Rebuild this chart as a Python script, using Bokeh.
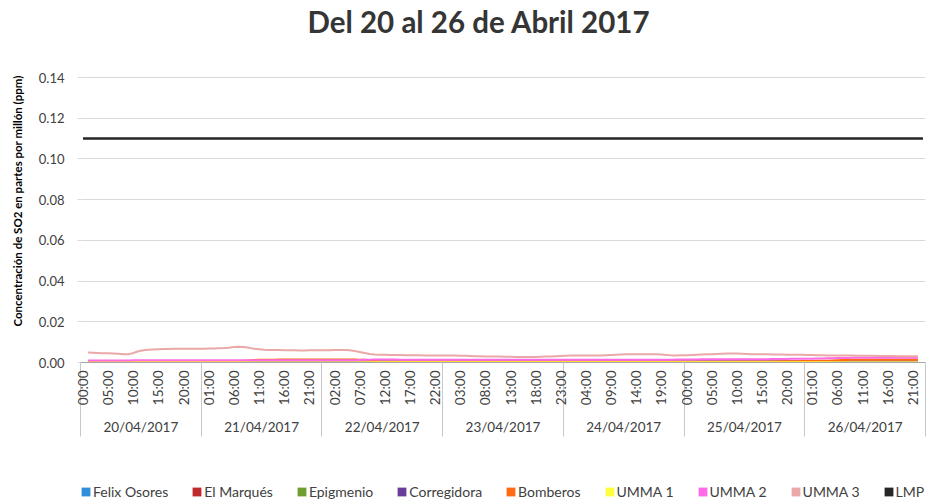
import math
from bokeh.plotting import figure
from bokeh.layouts import column
from bokeh.models import (Range1d, LinearAxis, FixedTicker, NumeralTickFormatter,
                          Legend, LegendItem, ColumnDataSource, Title)
from bokeh.embed import file_html
from bokeh.resources import INLINE

nan = float("nan")

title_text = "Del 20 al 26 de Abril 2017"
y_label = "Concentración de SO2 en partes por millón (ppm)"

dates = ["20/04/2017", "21/04/2017", "22/04/2017", "23/04/2017",
         "24/04/2017", "25/04/2017", "26/04/2017"]
day_centers = [11.5, 35.5, 59.5, 83.5, 107.5, 131.5, 155.5]
day_bounds = [-0.5, 23.5, 47.5, 71.5, 95.5, 119.5, 143.5, 167.5]

hour_ticks = [0, 5, 10, 15, 20, 25, 30, 35, 40, 45, 50, 55, 60, 65, 70, 75, 80,
              85, 90, 95, 100, 105, 110, 115, 120, 125, 130, 135, 140, 145,
              150, 155, 160, 165]
hour_labels = ["00:00", "05:00", "10:00", "15:00", "20:00",
               "01:00", "06:00", "11:00", "16:00", "21:00",
               "02:00", "07:00", "12:00", "17:00", "22:00",
               "03:00", "08:00", "13:00", "18:00", "23:00",
               "04:00", "09:00", "14:00", "19:00",
               "00:00", "05:00", "10:00", "15:00", "20:00",
               "01:00", "06:00", "11:00", "16:00", "21:00"]

y_ticks = [0.0, 0.02, 0.04, 0.06, 0.08, 0.10, 0.12, 0.14]

hour_index = list(range(168))

felix_osores = (
    [nan, 0.0002, 0.0002, 0.0002, 0.0002, 0.0002, 0.0002, 0.0002, 0.0002, 0.0002, 0.0002, 0.0002,
     0.0002, 0.0002, 0.0002, 0.0002, 0.0002, 0.0002, 0.0002, 0.0002, 0.0002, 0.0002, 0.0002, 0.0002]
    + [0.0002, 0.0002, 0.0002, 0.0002, 0.0002, 0.0002, 0.0002, 0.0002, 0.0002, 0.0002, 0.0002, 0.0002,
       0.0002, 0.0002, 0.0002, 0.0002, 0.0002, 0.0002, 0.0002, 0.0002, 0.0002, 0.0002, 0.0002, 0.0002]
    + [0.0002, 0.0002, 0.0002, 0.0002, 0.0002, 0.0002, 0.0002, 0.0002, 0.0002, 0.0002, 0.0002, 0.0002,
       0.0002, 0.0002, 0.0002, 0.0002, 0.0002, 0.0002, 0.0002, 0.0002, 0.0002, 0.0002, 0.0002, 0.0002]
    + [0.0002, 0.0002, 0.0002, 0.0002, 0.0002, 0.0002, 0.0002, 0.0002, 0.0002, 0.0002, 0.0002, 0.0002,
       0.0002, 0.0002, 0.0002, 0.0002, 0.0002, 0.0002, 0.0002, 0.0002, 0.0002, 0.0002, 0.0002, 0.0002]
    + [0.0002, 0.0002, 0.0002, 0.0002, 0.0002, 0.0002, 0.0002, 0.0002, 0.0002, 0.0002, 0.0002, 0.0002,
       0.0002, 0.0002, 0.0002, 0.0002, 0.0002, 0.0002, 0.0002, 0.0002, 0.0002, 0.0002, 0.0002, 0.0002]
    + [0.0002, 0.0002, 0.0002, 0.0002, 0.0002, 0.0002, 0.0002, 0.0002, 0.0002, 0.0002, 0.0002, 0.0002,
       0.0002, 0.0002, 0.0002, 0.0002, 0.0002, 0.0002, 0.0002, 0.0002, 0.0002, 0.0002, 0.0002, 0.0002]
    + [0.0002, 0.0002, 0.0002, 0.0002, 0.0002, 0.0002, 0.0002, 0.0002, 0.0002, 0.0002, 0.0002, 0.0002,
       0.0002, 0.0002, 0.0002, 0.0002, 0.0002, 0.0002, 0.0002, 0.0002, 0.0002, 0.0002, 0.0002, nan]
)

el_marques = (
    [nan, 0.0004, 0.0004, 0.0004, 0.0004, 0.0004, 0.0004, 0.0004, 0.0004, 0.0004, 0.0004, 0.0004,
     0.0004, 0.0004, 0.0004, 0.0004, 0.0004, 0.0004, 0.0004, 0.0004, 0.0004, 0.0004, 0.0004, 0.0004]
    + [0.0004, 0.0004, 0.0004, 0.0004, 0.0004, 0.0004, 0.0004, 0.0004, 0.0004, 0.0005, 0.0005, 0.0005,
       0.0005, 0.0005, 0.0005, 0.0005, 0.0005, 0.0005, 0.0006, 0.0006, 0.0006, 0.0006, 0.0006, 0.0006]
    + [0.0006, 0.0006, 0.0006, 0.0006, 0.0006, 0.0006, 0.0006, 0.0006, 0.0006, 0.0006, 0.0005, 0.0004,
       0.0004, 0.0004, 0.0004, 0.0004, 0.0004, 0.0004, 0.0004, 0.0004, 0.0004, 0.0004, 0.0004, 0.0004]
    + [0.0004, 0.0004, 0.0004, 0.0004, 0.0004, 0.0004, 0.0004, 0.0004, 0.0004, 0.0004, 0.0004, 0.0004,
       0.0004, 0.0004, 0.0004, 0.0004, 0.0004, 0.0004, 0.0004, 0.0004, 0.0004, 0.0004, 0.0004, 0.0004]
    + [0.0004, 0.0004, 0.0004, 0.0004, 0.0004, 0.0004, 0.0004, 0.0004, 0.0004, 0.0004, 0.0004, 0.0004,
       0.0004, 0.0004, 0.0004, 0.0004, 0.0004, 0.0004, 0.0004, 0.0004, 0.0004, 0.0004, 0.0004, 0.0004]
    + [0.0004, 0.0004, 0.0004, 0.0004, 0.0004, 0.0004, 0.0004, 0.0004, 0.0004, 0.0004, 0.0004, 0.0004,
       0.0004, 0.0004, 0.0004, 0.0004, 0.0004, 0.0004, 0.0004, 0.0004, 0.0004, 0.0004, 0.0004, 0.0004]
    + [0.0004, 0.0004, 0.0004, 0.0004, 0.0004, 0.0004, 0.0004, 0.0004, 0.0004, 0.0004, 0.0004, 0.0004,
       0.0004, 0.0004, 0.0004, 0.0004, 0.0004, 0.0004, 0.0004, 0.0004, 0.0004, 0.0004, 0.0004, nan]
)

epigmenio = (
    [nan, 0.0003, 0.0003, 0.0003, 0.0003, 0.0003, 0.0003, 0.0003, 0.0003, 0.0003, 0.0003, 0.0003,
     0.0003, 0.0003, 0.0003, 0.0003, 0.0003, 0.0003, 0.0003, 0.0003, 0.0003, 0.0003, 0.0003, 0.0003]
    + [0.0003, 0.0003, 0.0003, 0.0003, 0.0003, 0.0003, 0.0003, 0.0003, 0.0003, 0.0003, 0.0003, 0.0003,
       0.0003, 0.0003, 0.0003, 0.0003, 0.0003, 0.0003, 0.0003, 0.0003, 0.0003, 0.0003, 0.0003, 0.0003]
    + [0.0003, 0.0003, 0.0003, 0.0003, 0.0003, 0.0003, 0.0003, 0.0003, 0.0003, 0.0003, 0.0003, 0.0003,
       0.0003, 0.0003, 0.0003, 0.0003, 0.0003, 0.0003, 0.0003, 0.0003, 0.0003, 0.0003, 0.0003, 0.0003]
    + [0.0003, 0.0003, 0.0003, 0.0003, 0.0003, 0.0003, 0.0003, 0.0003, 0.0003, 0.0003, 0.0003, 0.0003,
       0.0003, 0.0003, 0.0003, 0.0003, 0.0003, 0.0003, 0.0003, 0.0003, 0.0003, 0.0003, 0.0003, 0.0003]
    + [0.0003, 0.0003, 0.0003, 0.0003, 0.0003, 0.0003, 0.0003, 0.0003, 0.0003, 0.0003, 0.0003, 0.0003,
       0.0003, 0.0003, 0.0003, 0.0003, 0.0003, 0.0003, 0.0003, 0.0003, 0.0003, 0.0003, 0.0003, 0.0003]
    + [0.0003, 0.0003, 0.0003, 0.0003, 0.0003, 0.0003, 0.0003, 0.0003, 0.0003, 0.0003, 0.0003, 0.0003,
       0.0003, 0.0003, 0.0003, 0.0003, 0.0003, 0.0003, 0.0003, 0.0003, 0.0003, 0.0003, 0.0003, 0.0003]
    + [0.0003, 0.0003, 0.0003, 0.0003, 0.0003, 0.0003, 0.0003, 0.0003, 0.0003, 0.0003, 0.0003, 0.0003,
       0.0003, 0.0003, 0.0003, 0.0003, 0.0003, 0.0003, 0.0003, 0.0003, 0.0003, 0.0003, 0.0003, nan]
)

corregidora = (
    [nan, 0.0005, 0.0005, 0.0005, 0.0005, 0.0005, 0.0005, 0.0005, 0.0005, 0.0005, 0.0005, 0.0005,
     0.0005, 0.0005, 0.0005, 0.0005, 0.0005, 0.0005, 0.0005, 0.0005, 0.0005, 0.0005, 0.0005, 0.0005]
    + [0.0005, 0.0005, 0.0005, 0.0005, 0.0005, 0.0005, 0.0005, 0.0005, 0.0005, 0.0005, 0.0005, 0.0005,
       0.0005, 0.0005, 0.0005, 0.0005, 0.0005, 0.0005, 0.0005, 0.0005, 0.0005, 0.0005, 0.0005, 0.0005]
    + [0.0005, 0.0005, 0.0005, 0.0005, 0.0005, 0.0005, 0.0005, 0.0005, 0.0005, 0.0005, 0.0005, 0.0005,
       0.0005, 0.0005, 0.0005, 0.0005, 0.0005, 0.0005, 0.0005, 0.0005, 0.0005, 0.0005, 0.0005, 0.0005]
    + [0.0005, 0.0005, 0.0005, 0.0005, 0.0005, 0.0005, 0.0005, 0.0005, 0.0005, 0.0005, 0.0005, 0.0005,
       0.0005, 0.0005, 0.0005, 0.0005, 0.0005, 0.0005, 0.0005, 0.0005, 0.0005, 0.0005, 0.0005, 0.0005]
    + [0.0005, 0.0005, 0.0005, 0.0005, 0.0005, 0.0005, 0.0005, 0.0005, 0.0005, 0.0005, 0.0005, 0.0005,
       0.0005, 0.0005, 0.0005, 0.0005, 0.0005, 0.0005, 0.0005, 0.0005, 0.0005, 0.0005, 0.0005, 0.0005]
    + [0.0005, 0.0005, 0.0005, 0.0005, 0.0005, 0.0005, 0.0005, 0.0005, 0.0005, 0.0005, 0.0005, 0.0005,
       0.0005, 0.0005, 0.0005, 0.0005, 0.0005, 0.0005, 0.0005, 0.0005, 0.0005, 0.0005, 0.0005, 0.0005]
    + [0.0005, 0.0005, 0.0005, 0.0005, 0.0005, 0.0005, 0.0005, 0.0005, 0.0005, 0.0005, 0.0005, 0.0005,
       0.0005, 0.0005, 0.0005, 0.0005, 0.0005, 0.0005, 0.0005, 0.0005, 0.0005, 0.0005, 0.0005, nan]
)

bomberos = (
    [nan, 0.0002, 0.0002, 0.0002, 0.0002, 0.0002, 0.0002, 0.0002, 0.0002, 0.0002, 0.0002, 0.0002,
     0.0002, 0.0002, 0.0002, 0.0002, 0.0002, 0.0002, 0.0002, 0.0002, 0.0002, 0.0002, 0.0002, 0.0002]
    + [0.0002, 0.0002, 0.0002, 0.0002, 0.0003, 0.0004, 0.0005, 0.0006, 0.0008, 0.0010, 0.0012, 0.0013,
       0.0014, 0.0014, 0.0014, 0.0015, 0.0015, 0.0015, 0.0015, 0.0015, 0.0015, 0.0015, 0.0015, 0.0015]
    + [0.0015, 0.0015, 0.0015, 0.0015, 0.0015, 0.0015, 0.0015, 0.0014, 0.0013, 0.0011, 0.0008, 0.0005,
       0.0004, 0.0004, 0.0004, 0.0004, 0.0004, 0.0004, 0.0004, 0.0004, 0.0004, 0.0004, 0.0004, 0.0004]
    + [0.0004, 0.0004, 0.0004, 0.0004, 0.0004, 0.0004, 0.0004, 0.0004, 0.0004, 0.0004, 0.0004, 0.0004,
       0.0004, 0.0004, 0.0004, 0.0004, 0.0004, 0.0004, 0.0004, 0.0004, 0.0004, 0.0004, 0.0004, 0.0004]
    + [0.0004, 0.0004, 0.0004, 0.0004, 0.0004, 0.0004, 0.0004, 0.0004, 0.0004, 0.0004, 0.0004, 0.0004,
       0.0004, 0.0004, 0.0004, 0.0004, 0.0004, 0.0004, 0.0004, 0.0004, 0.0004, 0.0004, 0.0004, 0.0004]
    + [0.0004, 0.0004, 0.0004, 0.0004, 0.0004, 0.0004, 0.0004, 0.0004, 0.0004, 0.0004, 0.0005, 0.0005,
       0.0005, 0.0005, 0.0005, 0.0005, 0.0005, 0.0005, 0.0005, 0.0006, 0.0006, 0.0006, 0.0006, 0.0007]
    + [0.0007, 0.0007, 0.0008, 0.0008, 0.0009, 0.0010, 0.0011, 0.0012, 0.0012, 0.0013, 0.0013, 0.0013,
       0.0013, 0.0013, 0.0013, 0.0013, 0.0013, 0.0013, 0.0013, 0.0013, 0.0013, 0.0013, 0.0013, nan]
)

umma_1 = (
    [nan, 0.0001, 0.0001, 0.0001, 0.0001, 0.0001, 0.0001, 0.0001, 0.0001, 0.0001, 0.0001, 0.0001,
     0.0001, 0.0001, 0.0001, 0.0001, 0.0001, 0.0001, 0.0001, 0.0001, 0.0001, 0.0001, 0.0001, 0.0001]
    + [0.0001, 0.0001, 0.0001, 0.0001, 0.0001, 0.0001, 0.0001, 0.0001, 0.0001, 0.0001, 0.0001, 0.0001,
       0.0001, 0.0001, 0.0001, 0.0001, 0.0001, 0.0001, 0.0001, 0.0001, 0.0001, 0.0001, 0.0001, 0.0001]
    + [0.0001, 0.0001, 0.0001, 0.0001, 0.0001, 0.0001, 0.0001, 0.0001, 0.0001, 0.0001, 0.0001, 0.0001,
       0.0001, 0.0001, 0.0001, 0.0001, 0.0001, 0.0001, 0.0001, 0.0001, 0.0001, 0.0001, 0.0001, 0.0001]
    + [0.0001, 0.0001, 0.0001, 0.0001, 0.0001, 0.0001, 0.0001, 0.0001, 0.0001, 0.0001, 0.0001, 0.0001,
       0.0001, 0.0001, 0.0001, 0.0001, 0.0001, 0.0001, 0.0001, 0.0001, 0.0001, 0.0001, 0.0001, 0.0001]
    + [0.0001, 0.0001, 0.0001, 0.0001, 0.0001, 0.0001, 0.0001, 0.0001, 0.0001, 0.0001, 0.0001, 0.0001,
       0.0001, 0.0001, 0.0001, 0.0001, 0.0001, 0.0001, 0.0001, 0.0001, 0.0001, 0.0001, 0.0001, 0.0001]
    + [0.0001, 0.0001, 0.0001, 0.0001, 0.0001, 0.0001, 0.0001, 0.0001, 0.0001, 0.0001, 0.0001, 0.0001,
       0.0001, 0.0001, 0.0001, 0.0001, 0.0001, 0.0001, 0.0001, 0.0001, 0.0001, 0.0001, 0.0001, 0.0001]
    + [0.0001, 0.0001, 0.0001, 0.0001, 0.0001, 0.0001, 0.0001, 0.0001, 0.0001, 0.0001, 0.0001, 0.0001,
       0.0001, 0.0001, 0.0001, 0.0001, 0.0001, 0.0001, 0.0001, 0.0001, 0.0001, 0.0001, 0.0001, nan]
)

umma_2 = (
    [nan, 0.0010, 0.0010, 0.0010, 0.0010, 0.0010, 0.0010, 0.0010, 0.0010, 0.0010, 0.0011, 0.0011,
     0.0011, 0.0011, 0.0011, 0.0011, 0.0011, 0.0011, 0.0011, 0.0011, 0.0011, 0.0011, 0.0011, 0.0011]
    + [0.0011, 0.0011, 0.0011, 0.0011, 0.0011, 0.0011, 0.0011, 0.0011, 0.0011, 0.0011, 0.0011, 0.0011,
       0.0011, 0.0011, 0.0011, 0.0011, 0.0011, 0.0011, 0.0011, 0.0011, 0.0011, 0.0011, 0.0011, 0.0011]
    + [0.0011, 0.0011, 0.0011, 0.0011, 0.0011, 0.0011, 0.0011, 0.0012, 0.0013, 0.0014, 0.0015, 0.0015,
       0.0015, 0.0015, 0.0015, 0.0014, 0.0014, 0.0014, 0.0014, 0.0014, 0.0014, 0.0014, 0.0014, 0.0014]
    + [0.0014, 0.0014, 0.0014, 0.0014, 0.0013, 0.0013, 0.0013, 0.0013, 0.0013, 0.0013, 0.0013, 0.0013,
       0.0013, 0.0013, 0.0013, 0.0013, 0.0013, 0.0013, 0.0013, 0.0013, 0.0013, 0.0013, 0.0013, 0.0013]
    + [0.0013, 0.0013, 0.0013, 0.0013, 0.0013, 0.0013, 0.0013, 0.0013, 0.0013, 0.0013, 0.0013, 0.0013,
       0.0013, 0.0013, 0.0013, 0.0013, 0.0013, 0.0013, 0.0013, 0.0013, 0.0014, 0.0014, 0.0015, 0.0015]
    + [0.0015, 0.0015, 0.0015, 0.0016, 0.0016, 0.0016, 0.0016, 0.0016, 0.0016, 0.0016, 0.0016, 0.0016,
       0.0016, 0.0016, 0.0016, 0.0016, 0.0016, 0.0017, 0.0017, 0.0017, 0.0017, 0.0018, 0.0018, 0.0018]
    + [0.0019, 0.0019, 0.0020, 0.0020, 0.0021, 0.0021, 0.0022, 0.0022, 0.0022, 0.0023, 0.0023, 0.0023,
       0.0023, 0.0023, 0.0023, 0.0023, 0.0023, 0.0023, 0.0023, 0.0023, 0.0023, 0.0023, 0.0023, nan]
)

umma_3 = (
    [nan, 0.0049, 0.0048, 0.0047, 0.0046, 0.0045, 0.0044, 0.0043, 0.0041, 0.0040, 0.0047, 0.0055,
     0.0060, 0.0063, 0.0064, 0.0065, 0.0066, 0.0066, 0.0067, 0.0067, 0.0067, 0.0068, 0.0068, 0.0068]
    + [0.0068, 0.0069, 0.0069, 0.0070, 0.0071, 0.0073, 0.0076, 0.0077, 0.0076, 0.0072, 0.0067, 0.0065,
       0.0063, 0.0062, 0.0061, 0.0061, 0.0060, 0.0060, 0.0060, 0.0059, 0.0059, 0.0060, 0.0060, 0.0060]
    + [0.0060, 0.0060, 0.0061, 0.0061, 0.0061, 0.0060, 0.0057, 0.0052, 0.0047, 0.0042, 0.0039, 0.0038,
       0.0038, 0.0037, 0.0037, 0.0037, 0.0036, 0.0036, 0.0036, 0.0036, 0.0035, 0.0035, 0.0035, 0.0035]
    + [0.0035, 0.0034, 0.0034, 0.0033, 0.0033, 0.0032, 0.0031, 0.0031, 0.0030, 0.0030, 0.0029, 0.0029,
       0.0028, 0.0028, 0.0027, 0.0027, 0.0027, 0.0027, 0.0027, 0.0028, 0.0029, 0.0030, 0.0031, 0.0032]
    + [0.0033, 0.0034, 0.0034, 0.0034, 0.0034, 0.0034, 0.0034, 0.0035, 0.0036, 0.0037, 0.0038, 0.0039,
       0.0040, 0.0040, 0.0041, 0.0041, 0.0041, 0.0041, 0.0040, 0.0039, 0.0037, 0.0035, 0.0035, 0.0036]
    + [0.0036, 0.0037, 0.0038, 0.0039, 0.0040, 0.0041, 0.0042, 0.0043, 0.0044, 0.0044, 0.0044, 0.0043,
       0.0042, 0.0041, 0.0041, 0.0040, 0.0040, 0.0039, 0.0039, 0.0039, 0.0038, 0.0038, 0.0038, 0.0038]
    + [0.0037, 0.0037, 0.0036, 0.0036, 0.0035, 0.0035, 0.0035, 0.0034, 0.0034, 0.0034, 0.0033, 0.0033,
       0.0033, 0.0033, 0.0032, 0.0032, 0.0032, 0.0032, 0.0031, 0.0031, 0.0031, 0.0031, 0.0031, nan]
)

lmp_value = 0.11
lmp = [lmp_value] * 168

series_names = ["Felix Osores", "El Marqués", "Epigmenio", "Corregidora", "Bomberos",
                "UMMA 1", "UMMA 2", "UMMA 3", "LMP"]
series_keys = ["felix", "marques", "epigmenio", "corregidora", "bomberos",
               "umma1", "umma2", "umma3", "lmp"]
series_colors = ["#2F8FDB", "#C0282D", "#6E9E30", "#6A3D9A", "#FF6A13",
                 "#FFFF40", "#FF6BE6", "#EBA8A8", "#262626"]
series_widths = [2, 2, 2, 2, 2, 2, 2, 2, 2.5]
series_values = [felix_osores, el_marques, epigmenio, corregidora, bomberos,
                 umma_1, umma_2, umma_3, lmp]

data = {"x": hour_index}
for k, v in zip(series_keys, series_values):
    data[k] = v
source = ColumnDataSource(data=data)

FONT = "Lato"

# y range top leaves white space between the title and the 0.14 gridline
p = figure(frame_width=845, frame_height=323, output_backend="svg", toolbar_location=None,
           x_range=Range1d(-0.5, 167.5), y_range=Range1d(0, 0.1587),
           x_axis_location=None, y_axis_location="left",
           min_border_left=80, min_border_right=2, min_border_top=0,
           min_border_bottom=0)
p.title.text = ""

chart_title = Title(text=title_text, align="left", offset=227, text_font=FONT,
                    text_font_size="29.5px", text_font_style="bold",
                    text_color="#353535", standoff=2)
p.add_layout(chart_title, "above")

p.outline_line_color = None
p.background_fill_color = "white"
p.xgrid.visible = False
p.ygrid.ticker = FixedTicker(ticks=y_ticks)
p.ygrid.grid_line_color = "#D9D9D9"
p.ygrid.grid_line_width = 1

yax = p.yaxis[0]
yax.ticker = FixedTicker(ticks=y_ticks)
yax.formatter = NumeralTickFormatter(format="0.00")
yax.axis_line_color = None
yax.major_tick_in = 0
yax.major_tick_out = 3
yax.major_tick_line_color = "#D9D9D9"
yax.minor_tick_line_color = None
yax.major_label_text_font = FONT
yax.major_label_text_font_size = "13px"
yax.major_label_text_color = "#404040"
yax.major_label_standoff = 13
yax.axis_label = y_label
yax.axis_label_text_font = FONT
yax.axis_label_text_font_size = "11.5px"
yax.axis_label_text_font_style = "bold"
yax.axis_label_text_color = "#000000"
yax.axis_label_standoff = 12

hour_axis = LinearAxis(
    ticker=FixedTicker(ticks=hour_ticks, minor_ticks=day_bounds),
    major_label_overrides={t: l for t, l in zip(hour_ticks, hour_labels)},
    major_label_orientation=math.pi / 2,
    major_tick_in=0, major_tick_out=0,
    minor_tick_in=0, minor_tick_out=74,
    minor_tick_line_color="#C8C8C8",
    axis_line_color="#A6A6A6",
    major_label_standoff=-66,
    major_label_text_font=FONT,
    major_label_text_font_size="13.5px",
    major_label_text_color="#404040",
)
p.add_layout(hour_axis, "below")

date_axis = LinearAxis(
    ticker=FixedTicker(ticks=day_centers),
    major_label_overrides={t: l for t, l in zip(day_centers, dates)},
    major_tick_in=0, major_tick_out=0,
    minor_tick_line_color=None,
    axis_line_color=None,
    major_label_standoff=10,
    major_label_text_font=FONT,
    major_label_text_font_size="13.5px",
    major_label_text_color="#404040",
)
p.add_layout(date_axis, "below")

for k, color, w in zip(series_keys, series_colors, series_widths):
    p.line(x="x", y=k, source=source, line_color=color, line_width=w)

# legend strip below the chart
lf = figure(width=927, height=64, output_backend="svg", toolbar_location=None,
            x_range=Range1d(-0.5, 167.5), y_range=Range1d(0, 0.14),
            x_axis_location=None, y_axis_location=None,
            min_border_left=0, min_border_right=0, min_border_top=0, min_border_bottom=0)
lf.outline_line_color = None
lf.xgrid.visible = False
lf.ygrid.visible = False

legend_items = []
for k, name, color in zip(series_keys, series_names, series_colors):
    sq = lf.quad(left="x", right="x", bottom=k, top=k, source=source,
                 fill_color=color, line_color=None, visible=False)
    legend_items.append(LegendItem(label=name, renderers=[sq]))

legend = Legend(items=legend_items, orientation="horizontal", location=(0, 1),
                label_text_font=FONT, label_text_font_size="14px",
                label_text_color="#404040", glyph_width=11, glyph_height=11,
                label_height=16, label_standoff=2, spacing=23, padding=0, margin=0,
                border_line_color=None, background_fill_alpha=0)
lf.add_layout(legend, "center")

layout = column(p, lf, spacing=0)

open("out.html", "w").write(file_html(layout, INLINE))
